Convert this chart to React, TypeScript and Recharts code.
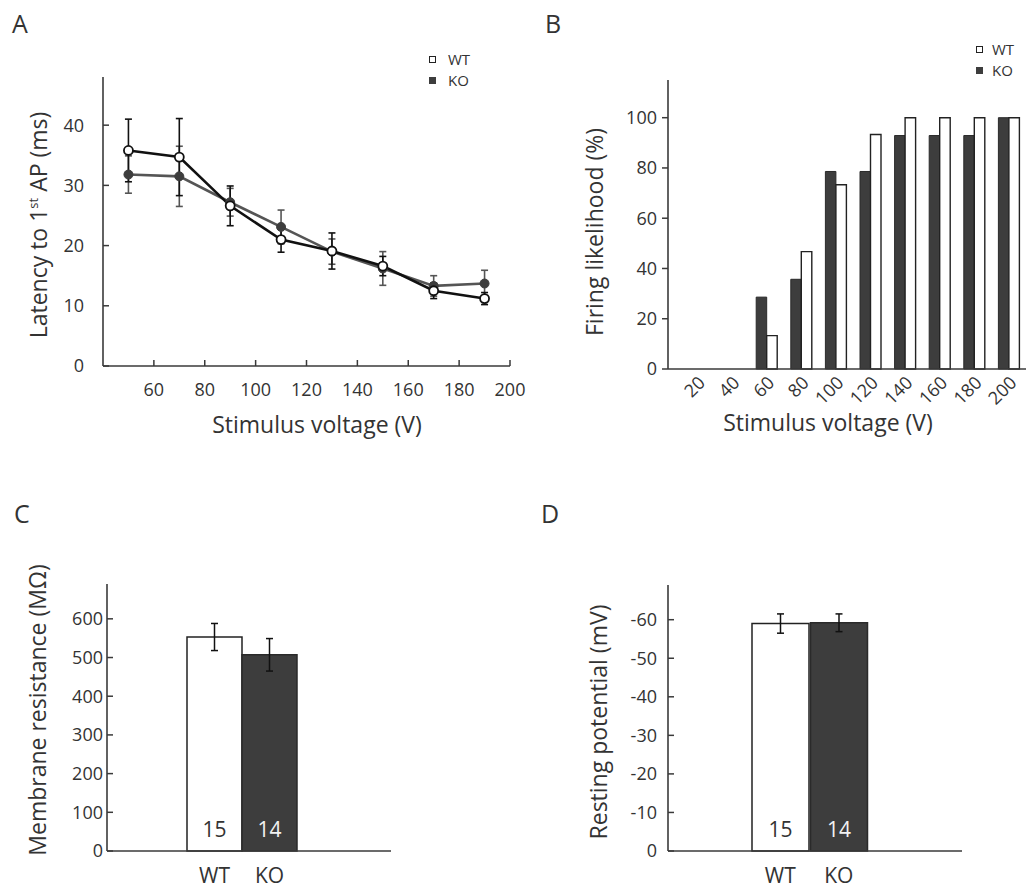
import {
  Bar,
  BarChart,
  Cell,
  ErrorBar,
  LabelList,
  Legend,
  Line,
  LineChart,
  XAxis,
  YAxis,
} from 'recharts';

const FONT = '"Open Sans", "Noto Sans", sans-serif';
const INK = '#333';
const AXIS = '#3a3a3a';
const WT_LINE = '#111';
const KO_LINE = '#555';
const KO_FILL = '#3d3d3d';

// A: latency to first AP vs stimulus voltage
const VOLTAGE_A = [50, 70, 90, 110, 130, 150, 170, 190];
const LATENCY_WT = [35.8, 34.7, 26.6, 21.0, 19.1, 16.6, 12.5, 11.2];
const LATENCY_WT_ERR = [5.2, 6.4, 3.3, 2.1, 3.0, 1.6, 1.3, 1.0];
const LATENCY_KO = [31.8, 31.5, 27.2, 23.1, 19.0, 16.2, 13.3, 13.7];
const LATENCY_KO_ERR = [3.1, 5.0, 2.3, 2.8, 2.1, 2.8, 1.7, 2.2];
const A_X_TICKS = [60, 80, 100, 120, 140, 160, 180, 200];
const A_Y_TICKS = [0, 10, 20, 30, 40];

// B: firing likelihood (%)
const VOLTAGE_B = [20, 40, 60, 80, 100, 120, 140, 160, 180, 200];
const FIRING_KO = [0, 0, 28.6, 35.7, 78.6, 78.6, 92.9, 92.9, 92.9, 100];
const FIRING_WT = [0, 0, 13.3, 46.7, 73.3, 93.3, 100, 100, 100, 100];
const B_Y_TICKS = [0, 20, 40, 60, 80, 100];

// C / D: passive properties
const GROUPS = ['WT', 'KO'];
const CELL_COUNTS = [15, 14];
const RESISTANCE = [553, 507];
const RESISTANCE_ERR = [35, 42];
const C_Y_TICKS = [0, 100, 200, 300, 400, 500, 600];
const RESTING_MV = [-59.0, -59.2];
const RESTING_ERR = [2.5, 2.3];
const D_Y_TICKS = [0, 10, 20, 30, 40, 50, 60];

const latencyRows = VOLTAGE_A.map((v, i) => ({
  v,
  wt: LATENCY_WT[i],
  wtErr: LATENCY_WT_ERR[i],
  ko: LATENCY_KO[i],
  koErr: LATENCY_KO_ERR[i],
}));

const firingRows = VOLTAGE_B.map((v, i) => ({
  v: String(v),
  ko: FIRING_KO[i],
  wt: FIRING_WT[i],
}));

const passiveRows = GROUPS.map((group, i) => ({
  group,
  n: CELL_COUNTS[i],
  r: RESISTANCE[i],
  rErr: RESISTANCE_ERR[i],
  mv: RESTING_MV[i],
  mvErr: RESTING_ERR[i],
}));

const GROUP_FILL: Record<string, string> = { WT: '#fff', KO: KO_FILL };
const GROUP_STROKE: Record<string, string> = { WT: '#222', KO: '#2a2a2a' };
const GROUP_LABEL: Record<string, string> = { WT: '#333', KO: '#f2f2f2' };

const axisLine = { stroke: AXIS, strokeWidth: 1.6 };
const TICK_SIZE = 18;

function leftTick(axisX: number, inward: boolean, labelRight: number, fmt?: (v: number) => string) {
  return (props: any) => {
    const { y, payload } = props;
    return (
      <g>
        <line
          x1={axisX}
          x2={inward ? axisX + 6 : axisX - 6}
          y1={y}
          y2={y}
          stroke={AXIS}
          strokeWidth={1.5}
        />
        <text x={labelRight} y={y} dy="0.36em" textAnchor="end" fontSize={TICK_SIZE} fill={INK} fontFamily={FONT}>
          {fmt ? fmt(payload.value) : payload.value}
        </text>
      </g>
    );
  };
}

const bottomTickA = (props: any) => {
  const { x, payload } = props;
  return (
    <g>
      <line x1={x} x2={x} y1={366} y2={360} stroke={AXIS} strokeWidth={1.5} />
      <text x={x} y={396} textAnchor="middle" fontSize={TICK_SIZE} fill={INK} fontFamily={FONT}>
        {payload.value}
      </text>
    </g>
  );
};

const rotatedTickB = (props: any) => {
  const { x, payload } = props;
  const ax = x + 9;
  const ay = 384;
  return (
    <text
      x={ax}
      y={ay}
      transform={`rotate(-45, ${ax}, ${ay})`}
      textAnchor="end"
      fontSize={TICK_SIZE}
      fill={INK}
      fontFamily={FONT}
    >
      {payload.value}
    </text>
  );
};

const groupTick = (props: any) => {
  const { x, payload } = props;
  return (
    <text x={x} y={393} textAnchor="middle" fontSize={21} fill={INK} fontFamily={FONT}>
      {payload.value}
    </text>
  );
};

const countLabel = (props: any) => {
  const { x, y, width, height, index } = props;
  const group = GROUPS[index];
  return (
    <text
      x={x + width / 2}
      y={y + height - 14}
      textAnchor="middle"
      fontSize={21}
      fill={GROUP_LABEL[group]}
      fontFamily={FONT}
    >
      {CELL_COUNTS[index]}
    </text>
  );
};

function squareLegend(rowGap: number, textGap: number) {
  return () => (
    <div style={{ fontFamily: FONT, fontSize: 15, color: INK, lineHeight: `${rowGap}px` }}>
      {GROUPS.map((g) => (
        <div key={g} style={{ display: 'flex', alignItems: 'center', height: rowGap }}>
          <span
            style={{
              display: 'inline-block',
              width: 7,
              height: 7,
              boxSizing: 'border-box',
              border: `1.6px solid ${g === 'WT' ? '#222' : KO_FILL}`,
              background: g === 'WT' ? '#fff' : KO_FILL,
              marginRight: textGap,
            }}
          />
          {g}
        </div>
      ))}
    </div>
  );
}

function PanelA() {
  return (
    <LineChart width={540} height={440} data={latencyRows} margin={{ top: 77, right: 30, bottom: 44, left: 63 }}>
      <XAxis
        dataKey="v"
        type="number"
        domain={[40, 200]}
        ticks={A_X_TICKS}
        interval={0}
        height={30}
        axisLine={axisLine}
        tickLine={false}
        tick={bottomTickA}
      />
      <YAxis
        type="number"
        domain={[0, 48]}
        ticks={A_Y_TICKS}
        interval={0}
        width={40}
        axisLine={axisLine}
        tickLine={false}
        tick={leftTick(103, true, 84)}
      />
      <Legend
        layout="horizontal"
        verticalAlign="middle"
        content={squareLegend(21, 12)}
        wrapperStyle={{ top: 49, left: 429, width: 70 }}
      />
      <Line
        dataKey="ko"
        name="KO"
        stroke={KO_LINE}
        strokeWidth={2.6}
        dot={{ r: 4.5, fill: KO_FILL, stroke: KO_FILL, strokeWidth: 1 }}
        isAnimationActive={false}
      >
        <ErrorBar dataKey="koErr" direction="y" width={3.5} stroke={KO_LINE} strokeWidth={1.6} />
      </Line>
      <Line
        dataKey="wt"
        name="WT"
        stroke={WT_LINE}
        strokeWidth={2.6}
        dot={{ r: 4.5, fill: '#fff', stroke: WT_LINE, strokeWidth: 1.8 }}
        isAnimationActive={false}
      >
        <ErrorBar dataKey="wtErr" direction="y" width={3.5} stroke={WT_LINE} strokeWidth={1.6} />
      </Line>
    </LineChart>
  );
}

function PanelB() {
  return (
    <BarChart
      width={507}
      height={440}
      data={firingRows}
      margin={{ top: 80, right: 1, bottom: 41, left: 108 }}
      barGap={0}
      barSize={10.5}
    >
      <XAxis
        dataKey="v"
        padding={{ left: 12, right: 0 }}
        height={30}
        interval={0}
        axisLine={axisLine}
        tickLine={false}
        tick={rotatedTickB}
      />
      <YAxis
        type="number"
        domain={[0, 115]}
        ticks={B_Y_TICKS}
        interval={0}
        width={40}
        axisLine={axisLine}
        tickLine={false}
        tick={leftTick(148, false, 137)}
      />
      <Legend
        layout="horizontal"
        verticalAlign="middle"
        content={squareLegend(21, 9)}
        wrapperStyle={{ top: 39, left: 456, width: 60 }}
      />
      <Bar dataKey="ko" name="KO" fill={KO_FILL} stroke="#2a2a2a" strokeWidth={1} isAnimationActive={false} />
      <Bar dataKey="wt" name="WT" fill="#fff" stroke="#222" strokeWidth={1.4} isAnimationActive={false} />
    </BarChart>
  );
}

function PanelC() {
  return (
    <BarChart
      width={520}
      height={398}
      data={passiveRows}
      margin={{ top: 94, right: 129, bottom: 7, left: 67 }}
      barCategoryGap={0}
    >
      <XAxis
        dataKey="group"
        padding={{ left: 80, right: 94 }}
        height={30}
        axisLine={axisLine}
        tickLine={false}
        tick={groupTick}
      />
      <YAxis
        type="number"
        domain={[0, 690]}
        ticks={C_Y_TICKS}
        interval={0}
        width={40}
        axisLine={axisLine}
        tickLine={false}
        tick={leftTick(107, true, 103)}
      />
      <Bar dataKey="r" strokeWidth={1.5} isAnimationActive={false}>
        {passiveRows.map((row) => (
          <Cell key={row.group} fill={GROUP_FILL[row.group]} stroke={GROUP_STROKE[row.group]} />
        ))}
        <ErrorBar dataKey="rErr" direction="y" width={3.5} stroke="#111" strokeWidth={1.5} />
        <LabelList dataKey="n" content={countLabel} />
      </Bar>
    </BarChart>
  );
}

function PanelD() {
  return (
    <BarChart
      width={507}
      height={398}
      data={passiveRows}
      margin={{ top: 95, right: 65, bottom: 7, left: 108 }}
      barCategoryGap={1}
    >
      <XAxis
        dataKey="group"
        padding={{ left: 83, right: 94 }}
        height={30}
        axisLine={axisLine}
        tickLine={false}
        tick={groupTick}
      />
      <YAxis
        type="number"
        domain={[0, 69]}
        ticks={D_Y_TICKS}
        interval={0}
        width={40}
        axisLine={axisLine}
        tickLine={false}
        tick={leftTick(148, true, 137, (v) => (v === 0 ? '0' : `-${v}`))}
      />
      <Bar dataKey={(d: any) => -d.mv} strokeWidth={1.5} isAnimationActive={false}>
        {passiveRows.map((row) => (
          <Cell key={row.group} fill={GROUP_FILL[row.group]} stroke={GROUP_STROKE[row.group]} />
        ))}
        <ErrorBar dataKey="mvErr" direction="y" width={3.5} stroke="#111" strokeWidth={1.5} />
        <LabelList dataKey="n" content={countLabel} />
      </Bar>
    </BarChart>
  );
}

const titleProps = { fontFamily: FONT, fontSize: 23, fill: INK };
const letterProps = { fontFamily: FONT, fontSize: 25, fill: INK };

export default function App() {
  return (
    <div style={{ position: 'absolute', left: 0, top: 0, width: 1027, height: 888, background: '#fff' }}>
      <div style={{ position: 'absolute', left: 0, top: 0 }}>
        <PanelA />
      </div>
      <div style={{ position: 'absolute', left: 520, top: 0 }}>
        <PanelB />
      </div>
      <div style={{ position: 'absolute', left: 0, top: 490 }}>
        <PanelC />
      </div>
      <div style={{ position: 'absolute', left: 520, top: 490 }}>
        <PanelD />
      </div>
      <svg
        width={1027}
        height={888}
        style={{ position: 'absolute', left: 0, top: 0, pointerEvents: 'none' }}
      >
        <text x={12} y={33} {...letterProps}>A</text>
        <text x={545} y={33} {...letterProps}>B</text>
        <text x={14} y={523} {...letterProps}>C</text>
        <text x={541} y={523} {...letterProps}>D</text>

        <text x={47} y={225} textAnchor="middle" transform="rotate(-90, 47, 225)" {...titleProps}>
          Latency to 1<tspan fontSize={13} dy={-9}>st</tspan>
          <tspan dy={9}> AP (ms)</tspan>
        </text>
        <text x={317} y={433} textAnchor="middle" {...titleProps}>Stimulus voltage (V)</text>

        <text x={603} y={232} textAnchor="middle" transform="rotate(-90, 603, 232)" {...titleProps}>
          Firing likelihood (%)
        </text>
        <text x={828} y={431} textAnchor="middle" {...titleProps}>Stimulus voltage (V)</text>

        <text x={46} y={710} textAnchor="middle" transform="rotate(-90, 46, 710)" {...titleProps}>
          Membrane resistance (MΩ)
        </text>
        <text x={607} y={722} textAnchor="middle" transform="rotate(-90, 607, 722)" {...titleProps}>
          Resting potential (mV)
        </text>
      </svg>
    </div>
  );
}
